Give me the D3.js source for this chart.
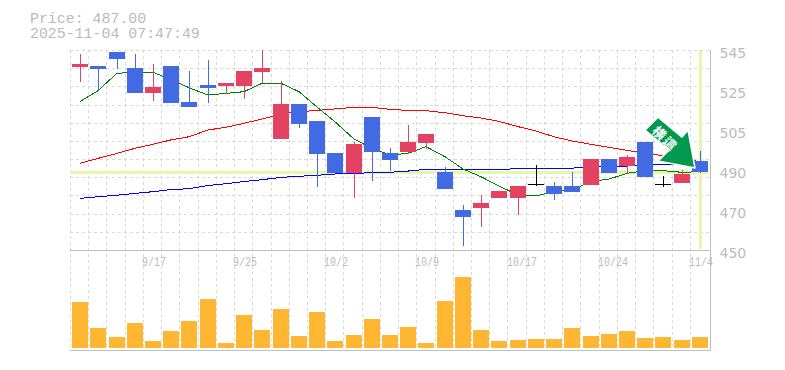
<!DOCTYPE html>
<html><head><meta charset="utf-8">
<script src="https://cdn.jsdelivr.net/npm/d3@7/dist/d3.min.js"></script>
<style>html,body{margin:0;padding:0;background:#fff}svg{display:block}</style>
</head><body><svg id="c" width="785" height="370"></svg>
<script>
const headerLines = ["Price: 487.00", "2025-11-04 07:47:49"];
const lastPrice = 487;
const xTickIndex = [4, 9, 14, 19, 24, 29, 34];
const xTickLabels = ["9/17", "9/25", "10/2", "10/9", "10/17", "10/24", "11/4"];
const yTickValues = [545, 526, 507, 488, 469, 450];
const yTickLabels = ["545", "525", "505", "490", "470", "450"];
const opens  = [537,537.4,544,536.5,524.6,537.4,520.3,528.4,527.9,527.9,534.6,502.7,519.4,511.3,496.1,486.6,513.2,496.1,496.6,500.8,487,469,470,474.7,474.7,481.2,480.4,480.4,480.9,493.2,489.9,501.3,481.2,481.8,492.3];
const closes = [538.4,536,540.7,524.6,527.4,519.8,517.9,527,529.3,535,536.5,519.4,509.9,495.6,486.6,500.4,496.6,492.8,501.3,505.1,479,465.7,472.3,478,480.4,481.2,476.6,477.6,493.2,486.6,494.2,484.7,481.2,486.1,487];
const highs  = [543.1,537.4,544,543.1,538.4,537.4,535,540.3,529.3,535,545,530.3,519.4,511.3,496.1,501.3,513.2,498.5,509.4,505.1,489.4,471.4,476.1,478,480.4,490.4,482.3,487,493.2,493.2,495.1,501.3,485.2,488,497];
const lows   = [529.8,525.7,536,524.6,520.8,519.8,517.9,519.8,524.1,521.7,529.5,502.7,508,479.9,486.6,474.7,482.8,487.5,495.6,498,479,451.9,460.9,474.7,466.6,480.4,473.8,477.6,480.9,486.6,486,484.7,479.9,481.8,486.6];
const maShort = [520.5,525.7,533.9,534.5,534.4,531,527.1,523.6,524.4,525.2,529.2,529.2,525.2,517.9,510.9,502.7,498.3,495.1,495.9,499.1,494.3,488.5,484.8,480.4,476.1,475.7,477.7,478.5,482.5,483.7,486.4,487.7,487.7,486.9,487.2];
const maMid   = [491.2,493.5,495.9,498.3,500.2,502.3,503.8,507,508.3,510.2,512.2,514.6,515.7,516.3,517,517.8,517.8,516.8,516.3,516.2,515.2,513.8,512.7,511.1,508.6,506.5,503.8,501.8,500.2,498.8,497.3,495.9,494.8,494,491.7];
const maLong  = [474.5,475.3,476,476.9,477.7,478.7,479.1,480.6,481.5,482.5,483.4,484.5,485,485.5,486.1,486.4,486.7,486.9,487.5,488.3,488.3,488.3,488.3,488.3,488.6,488.6,488.8,488.9,489.3,489.6,489.9,490.4,490.7,490.9,491.2];
const volumes = [46,20,11,25,7,17,27,49,5,33,18,39,12,36,7,13,29,13,21,5,47,71,18,7,8,9,9,20,12,14,17,10,11,8,11];

const RED = "#e34262", BLUE = "#416ae3", GOLD = "#ffb733", GRID = "#d9d9d9", FRAME = "#c0c0c0", TXT = "#bbbbbb", MARK = "#e6f6ab";
const MONO = "'Liberation Mono','DejaVu Sans Mono',monospace";
const svg = d3.select("#c");
const idx = d3.range(opens.length);
const x = d3.scaleBand().domain(idx).range([71, 709]).paddingInner(0.125).paddingOuter(0.0625);
const cx = i => Math.round(x(i) + x.bandwidth() / 2);
const y = d3.scaleLinear().domain([450, 545]).range([250, 50]);
const v = d3.scaleLinear().domain([0, 100]).range([348, 248]);

// dashed grid
const stepY = 200 / 11, stepX = x.step();
const gridX = d3.range(0, 35).map(k => Math.round(70 + k * stepX) + 0.5);
const gridY = d3.range(0, 11).map(k => Math.round(50 + k * stepY) + 0.5);
const g = svg.append("g").attr("stroke", GRID).attr("stroke-dasharray", "3 3").attr("shape-rendering", "crispEdges");
g.selectAll("line.v").data(gridX).join("line").attr("class", "v").attr("x1", d => d).attr("x2", d => d).attr("y1", 50).attr("y2", 350);
g.selectAll("line.h").data(gridY).join("line").attr("class", "h").attr("x1", 70).attr("x2", 710).attr("y1", d => d).attr("y2", d => d);

// frame
const f = svg.append("g").attr("stroke", FRAME).attr("shape-rendering", "crispEdges");
f.append("line").attr("x1", 70).attr("x2", 711).attr("y1", 250.5).attr("y2", 250.5);
f.append("line").attr("x1", 70).attr("x2", 711).attr("y1", 350.5).attr("y2", 350.5);
f.append("line").attr("x1", 710.5).attr("x2", 710.5).attr("y1", 50).attr("y2", 351);

// current price markers
const my = Math.round(y(lastPrice)) + 0.5;
svg.append("line").attr("x1", 70).attr("x2", 708).attr("y1", my).attr("y2", my).attr("stroke", MARK).attr("stroke-width", 3);
svg.append("line").attr("x1", cx(34)+0.5).attr("x2", cx(34)+0.5).attr("y1", 51).attr("y2", 249).attr("stroke", MARK).attr("stroke-width", 3);

// volume
svg.append("g").attr("shape-rendering", "crispEdges").selectAll("rect").data(volumes).join("rect")
  .attr("x", (d, i) => cx(i) - 8).attr("width", 16)
  .attr("y", d => v(d)).attr("height", d => v(0) - v(d)).attr("fill", GOLD);

// moving averages
const line = d3.line().x((d, i) => cx(i)).y(d => y(d));
[[maMid, "#ff0000"], [maLong, "#0000ff"], [maShort, "#008000"]].forEach(([s, c]) =>
  svg.append("path").attr("d", line(s)).attr("fill", "none").attr("stroke", c).attr("stroke-width", 1).attr("shape-rendering", "crispEdges"));

// candles
const col = i => closes[i] > opens[i] ? RED : closes[i] < opens[i] ? BLUE : "#000";
const cg = svg.append("g").attr("shape-rendering", "crispEdges");
cg.selectAll("line").data(idx).join("line")
  .attr("x1", i => cx(i) + 0.5).attr("x2", i => cx(i) + 0.5)
  .attr("y1", i => y(highs[i])).attr("y2", i => y(lows[i])).attr("stroke", col);
cg.selectAll("rect").data(idx).join("rect")
  .attr("x", i => cx(i) - 8).attr("width", 16)
  .attr("y", i => y(Math.max(opens[i], closes[i])))
  .attr("height", i => Math.max(1, Math.abs(y(opens[i]) - y(closes[i]))))
  .attr("fill", col);

// callout arrow anchored on last candle
const ax = cx(34) - 5, ay = y(lastPrice) - 4;
const arrow = svg.append("g").attr("transform", `translate(${ax},${ay})`);
const pts = [[0,0],[-37,-7],[-26,-18],[-50,-38],[-37,-51],[-13,-31],[-7,-38]];
arrow.append("path").attr("d", "M" + pts.join("L") + "Z").attr("fill", "#00994d").attr("stroke", "#fff").attr("stroke-width", 1.5).attr("stroke-linejoin", "round");
arrow.append("text").attr("transform", "translate(-30,-29) rotate(45)").attr("text-anchor", "middle").attr("dy", "0.35em")
  .attr("font-family", "'Noto Sans CJK JP'").attr("font-size", 13).attr("font-weight", 700).attr("letter-spacing", 2).attr("fill", "#fff").text("横這");

// texts
const t = svg.append("g").attr("fill", TXT).attr("font-family", MONO);
t.selectAll("text.h").data(headerLines).join("text").attr("class", "h").attr("x", 30).attr("y", (d, i) => 23 + i * 15).attr("font-size", 14.9).text(d => d);
t.selectAll("text.y").data(yTickValues).join("text").attr("class", "y").attr("x", 719.5).attr("y", d => y(d) + 7.7)
  .attr("font-size", 14).attr("font-family", "'DejaVu Sans'").text((d, i) => yTickLabels[i]);
t.selectAll("text.x").data(xTickIndex).join("text").attr("class", "x").attr("x", d => cx(d) - 11).attr("y", 266)
  .attr("font-size", 12).attr("textLength", (d, i) => xTickLabels[i].length * 6).attr("lengthAdjust", "spacingAndGlyphs").text((d, i) => xTickLabels[i]);
</script></body></html>
